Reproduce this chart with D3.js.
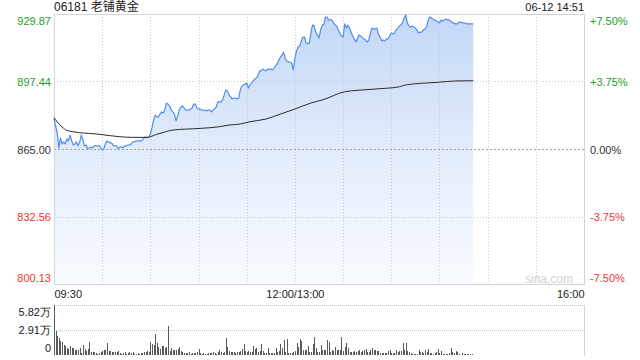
<!DOCTYPE html>
<html>
<head>
<meta charset="utf-8">
<script src="https://cdn.jsdelivr.net/npm/d3@7"></script>
<style>
  body { margin: 0; background: #fff; }
  svg { font-family: "Liberation Sans", Arial, "Noto Sans CJK SC", sans-serif; }
  .tick line { display: none; }
  .domain { display: none; }
</style>
</head>
<body>
<div id="svg-container"></div>
<script>
// Chart data
const stockTitle = "06181 老铺黄金";
const stamp = "06-12 14:51";
const prevClose = 865.0;
const timeTicks = [0, 150, 330];
const timeLabels = ["09:30", "12:00/13:00", "16:00"];
const gridMinutes = [30, 60, 90, 120, 150, 180, 210, 240, 270, 300];
const priceTicks = [929.87, 897.44, 865.0, 832.56, 800.13];
const pctLabels = ["+7.50%", "+3.75%", "0.00%", "-3.75%", "-7.50%"];
const volTicks = [5.82, 2.91, 0];
const volLabels = ["5.82万", "2.91万", "0"];

// one price per minute from 09:30
const prices = [
  879.7, 876.1, 872.7, 865.5, 870.3, 867.4, 868.4, 867.4, 869.8, 868.9,
  871.7, 868.9, 866.9, 867.4, 868.4, 866.5, 868.4, 871.7, 869.3, 866.5,
  866.9, 865.0, 865.5, 866.0, 865.5, 866.5, 866.5, 866.5, 866.5, 866.0,
  864.5, 865.0, 867.4, 868.9, 868.4, 867.9, 867.9, 866.5, 866.5, 866.5,
  865.0, 866.0, 866.0, 865.5, 866.5, 866.5, 866.9, 866.9, 867.4, 868.4,
  868.4, 868.9, 868.9, 868.9, 868.9, 869.3, 870.3, 870.8, 870.3, 870.8,
  872.2, 875.1, 878.9, 881.3, 880.4, 880.4, 881.8, 882.8, 882.3, 883.7,
  887.1, 886.6, 885.7, 883.7, 882.8, 881.8, 878.5, 880.9, 883.7, 885.2,
  885.7, 884.7, 883.7, 883.7, 883.7, 884.2, 884.7, 886.6, 886.6, 884.7,
  884.2, 884.2, 883.7, 883.7, 883.7, 883.3, 883.7, 883.7, 882.8, 883.7,
  884.2, 885.2, 887.6, 887.6, 887.6, 888.6, 891.0, 893.4, 892.9, 891.0,
  890.0, 889.0, 889.5, 889.5, 889.0, 889.5, 893.4, 895.3, 895.8, 896.2,
  896.7, 894.3, 895.8, 896.7, 897.7, 898.6, 899.1, 900.1, 902.5, 902.5,
  903.4, 903.0, 902.5, 903.4, 903.4, 903.4, 903.0, 903.9, 904.9, 905.9,
  907.8, 909.2, 910.2, 911.6, 908.3, 907.3, 906.8, 906.8, 906.3, 903.0,
  908.7, 912.1, 914.0, 914.5, 916.9, 918.8, 918.8, 915.9, 915.5, 915.9,
  921.2, 924.6, 924.1, 921.2, 919.8, 918.3, 922.2, 924.6, 924.6, 928.4,
  928.4, 927.0, 927.0, 927.0, 925.6, 924.6, 924.1, 922.2, 920.7, 919.3,
  918.8, 925.1, 923.1, 924.6, 923.1, 921.2, 919.3, 917.9, 916.4, 918.3,
  919.8, 919.3, 918.3, 917.9, 917.4, 916.4, 917.4, 920.7, 923.1, 922.7,
  922.7, 923.1, 920.3, 918.8, 916.9, 917.4, 916.9, 917.9, 917.9, 919.3,
  920.7, 920.3, 920.7, 922.2, 923.1, 924.1, 924.6, 925.6, 927.9, 929.4,
  925.6, 924.1, 923.6, 924.1, 923.6, 923.1, 922.2, 920.7, 921.2, 921.2,
  922.2, 922.7, 923.6, 927.0, 928.4, 928.0, 927.5, 927.0, 926.5, 926.0,
  925.6, 927.0, 926.5, 927.0, 927.5, 927.0, 927.0, 926.5, 925.6, 925.6,
  925.1, 925.1, 926.0, 926.0, 925.6, 925.6, 925.6, 925.1, 925.1, 925.1,
  925.1, 925.1
];

// average price line, sampled
const avgMinutes = [0, 2, 5, 8, 12, 16, 22, 28, 35, 41, 49, 58, 60, 64, 66, 74, 91, 103, 109, 116,
  122, 132, 141, 150, 160, 168, 181, 198, 215, 219, 240, 250, 261];
const avgPrices = [880.1, 878.0, 875.6, 873.9, 873.3, 872.8, 872.5, 872.1, 871.4, 870.9, 870.6, 870.6,
  870.9, 872.1, 872.5, 874.1, 874.9, 875.7, 876.5, 877.0, 878.1, 879.4, 881.8, 884.2, 887.1, 888.8,
  892.5, 893.7, 894.9, 895.8, 897.1, 897.7, 897.8];

// volume per minute, in 万
const volumes = [
  5.82, 2.83, 2.2, 1.94, 1.67, 1.47, 1.2, 1.05, 0.78, 0.7,
  1.0, 0.8, 0.78, 0.58, 0.55, 0.6, 0.78, 0.2, 1.16, 0.66,
  0.5, 0.66, 1.51, 0.39, 0.39, 0.3, 0.19, 0.12, 0.27, 0.31,
  0.47, 0.58, 0.6, 1.43, 0.5, 0.47, 0.4, 0.4, 0.3, 0.35,
  0.5, 0.2, 0.15, 0.2, 0.31, 0.15, 0.27, 0.35, 0.2, 0.31,
  0.12, 0.08, 0.19, 0.15, 0.27, 0.2, 0.31, 0.39, 0.47, 0.3,
  1.55, 1.24, 1.2, 2.44, 1.43, 0.97, 0.7, 1.05, 1.05, 0.78,
  0.9, 3.37, 0.5, 0.78, 0.58, 0.58, 0.62, 0.66, 0.89, 0.45,
  0.3, 0.2, 0.27, 0.19, 0.31, 0.15, 0.2, 0.27, 0.25, 0.3,
  0.66, 0.2, 0.15, 0.19, 0.12, 0.15, 0.2, 0.27, 0.19, 0.3,
  0.2, 0.12, 0.3, 0.6, 0.4, 0.27, 0.39, 1.94, 0.89, 0.5,
  0.39, 0.35, 0.39, 0.27, 0.35, 0.39, 0.5, 0.66, 1.28, 0.45,
  0.39, 0.5, 0.3, 0.39, 1.05, 0.7, 0.78, 0.39, 0.5, 1.28,
  0.5, 0.19, 0.27, 0.78, 0.27, 0.19, 0.2, 0.27, 0.78, 0.39,
  0.5, 1.28, 0.78, 1.74, 0.39, 1.86, 0.19, 0.27, 0.27, 0.35,
  0.5, 1.43, 0.97, 1.86, 1.67, 0.58, 0.58, 0.58, 1.05, 0.39,
  0.39, 1.28, 2.13, 0.78, 0.39, 0.39, 1.16, 0.58, 0.58, 0.6,
  1.74, 1.55, 0.39, 0.58, 0.5, 0.97, 0.58, 0.58, 0.58, 2.13,
  0.5, 0.89, 1.43, 0.78, 0.39, 0.39, 0.39, 0.45, 0.4, 0.5,
  0.58, 0.39, 0.45, 0.58, 0.66, 0.39, 0.39, 0.58, 0.78, 0.58,
  0.58, 0.5, 0.5, 0.27, 0.27, 0.27, 0.27, 0.27, 0.5, 0.58,
  0.19, 0.19, 0.19, 0.58, 0.39, 0.5, 0.5, 1.43, 0.58, 1.43,
  0.45, 0.39, 0.19, 0.12, 0.12, 0.12, 0.12, 0.62, 0.35, 0.3,
  0.19, 0.58, 0.39, 0.66, 0.27, 0.19, 0.12, 0.19, 0.3, 0.66,
  0.19, 0.5, 0.12, 0.08, 0.08, 0.15, 0.27, 0.78, 0.39, 0.19,
  0.47, 0.3, 0.12, 0.04, 0.19, 0.12, 0.08, 0.08, 0.08, 0.08,
  0.08, 0.04
];

const width = 640;
const height = 360;
const plot = { left: 54, right: 584, top: 14, bottom: 284 };
const volPanel = { top: 305, bottom: 355 };
const upColor = "#1e9e1e";
const downColor = "#f03434";
const flatColor = "#333";

const svg = d3.select("#svg-container").append("svg")
  .attr("width", width).attr("height", height);

// Scales
const xScale = d3.scaleLinear().domain([0, 330]).range([plot.left, plot.right]);
const yScale = d3.scaleLinear().domain([800.13, 929.87]).range([plot.bottom, plot.top]);
const volScale = d3.scaleLinear().domain([0, 5.82]).range([volPanel.bottom, volPanel.top]);

const tickColor = (v) => (v > prevClose + 0.01 ? upColor : v < prevClose - 0.01 ? downColor : flatColor);

// Gradient for the area
const grad = svg.append("defs").append("linearGradient")
  .attr("id", "fillGrad")
  .attr("gradientUnits", "userSpaceOnUse")
  .attr("x1", 0).attr("x2", 0)
  .attr("y1", plot.top).attr("y2", plot.bottom);
grad.append("stop").attr("offset", "0%").attr("stop-color", "#c2d7f7");
grad.append("stop").attr("offset", "50%").attr("stop-color", "#e2ecfb");
grad.append("stop").attr("offset", "100%").attr("stop-color", "#f8fbff");

// Price area + line
const area = d3.area()
  .x((d, i) => xScale(i))
  .y0(plot.bottom)
  .y1((d) => yScale(d));
svg.append("path").datum(prices)
  .attr("d", area)
  .attr("fill", "url(#fillGrad)");

// Grid lines
svg.append("g").selectAll("line")
  .data(gridMinutes).join("line")
  .attr("x1", (d) => Math.round(xScale(d)) + 0.5)
  .attr("x2", (d) => Math.round(xScale(d)) + 0.5)
  .attr("y1", plot.top).attr("y2", plot.bottom)
  .attr("stroke", "#c8c8c8").attr("stroke-dasharray", "1,2");

svg.append("g").selectAll("line")
  .data(priceTicks.slice(1, 4)).join("line")
  .attr("x1", plot.left).attr("x2", plot.right)
  .attr("y1", (d) => Math.round(yScale(d)) + 0.5)
  .attr("y2", (d) => Math.round(yScale(d)) + 0.5)
  .attr("stroke", (d) => (d === prevClose ? "#a0a0a0" : "#c8c8c8"))
  .attr("stroke-dasharray", (d) => (d === prevClose ? "2,2" : "1,2"));

// Plot frame
svg.append("rect")
  .attr("x", plot.left + 0.5).attr("y", plot.top + 0.5)
  .attr("width", plot.right - plot.left).attr("height", plot.bottom - plot.top)
  .attr("fill", "none").attr("stroke", "#d4d4d4");

const line = d3.line()
  .x((d, i) => xScale(i))
  .y((d) => yScale(d));
svg.append("path").datum(prices)
  .attr("d", line)
  .attr("fill", "none")
  .attr("stroke", "#4f8ef0")
  .attr("stroke-width", 1.2)
  .attr("stroke-linejoin", "round");

// Average line
const avgLine = d3.line()
  .x((d) => xScale(d[0]))
  .y((d) => yScale(d[1]))
  .curve(d3.curveMonotoneX);
svg.append("path").datum(avgMinutes.map((m, i) => [m, avgPrices[i]]))
  .attr("d", avgLine)
  .attr("fill", "none")
  .attr("stroke", "#2b2b2b")
  .attr("stroke-width", 1);

// Watermark
svg.append("text")
  .attr("x", 573).attr("y", 283)
  .attr("text-anchor", "end")
  .attr("font-size", 12)
  .attr("fill", "#cfcfcf")
  .text("sina.com");

// Label offsets: top label pushed down, bottom pushed up
const labelDy = (i, n) => (i === 0 ? "0.95em" : i === n - 1 ? "-0.2em" : "0.4em");

// Left price axis
const leftAxis = svg.append("g")
  .attr("transform", `translate(${plot.left},0)`)
  .call(d3.axisLeft(yScale).tickValues(priceTicks).tickSize(0).tickPadding(3)
    .tickFormat(d3.format(".2f")));
leftAxis.selectAll("text")
  .attr("font-size", 11)
  .attr("font-family", null)
  .attr("dy", (d, i) => labelDy(i, priceTicks.length))
  .attr("fill", (d) => tickColor(d));

// Right percent axis
const rightAxis = svg.append("g")
  .attr("transform", `translate(${plot.right},0)`)
  .call(d3.axisRight(yScale).tickValues(priceTicks).tickSize(0).tickPadding(6)
    .tickFormat((d, i) => pctLabels[i]));
rightAxis.selectAll("text")
  .attr("font-size", 11)
  .attr("font-family", null)
  .attr("dy", (d, i) => labelDy(i, priceTicks.length))
  .attr("fill", (d) => tickColor(d));

// Time axis
const xAxis = svg.append("g")
  .attr("transform", `translate(0,${plot.bottom})`)
  .call(d3.axisBottom(xScale).tickValues(timeTicks).tickSize(0).tickPadding(6)
    .tickFormat((d, i) => timeLabels[i]));
xAxis.selectAll("text")
  .attr("font-size", 11)
  .attr("font-family", null)
  .attr("fill", "#222")
  .attr("text-anchor", (d, i) => (i === 0 ? "start" : i === timeTicks.length - 1 ? "end" : "middle"));

// Header
svg.append("text")
  .attr("x", plot.left).attr("y", 11)
  .attr("font-size", 12).attr("fill", "#222")
  .text(stockTitle);
svg.append("text")
  .attr("x", plot.right).attr("y", 11)
  .attr("text-anchor", "end")
  .attr("font-size", 11).attr("fill", "#222")
  .text(stamp);

// Volume panel
svg.append("g").selectAll("line")
  .data(volTicks.slice(0, 2)).join("line")
  .attr("x1", plot.left).attr("x2", plot.right)
  .attr("y1", (d) => Math.round(volScale(d)) + 0.5)
  .attr("y2", (d) => Math.round(volScale(d)) + 0.5)
  .attr("stroke", "#c4c4c4").attr("stroke-dasharray", "1,1");

[plot.left, plot.right].forEach((x) => {
  svg.append("line")
    .attr("x1", x + 0.5).attr("x2", x + 0.5)
    .attr("y1", volPanel.top).attr("y2", volPanel.bottom + 1)
    .attr("stroke", "#d4d4d4");
});

svg.append("g").selectAll("rect")
  .data(volumes).join("rect")
  .attr("x", (d, i) => Math.round(xScale(i)))
  .attr("y", (d) => volScale(d))
  .attr("width", 1)
  .attr("height", (d) => volPanel.bottom - volScale(d))
  .attr("fill", "#5a5a5a")
  .attr("shape-rendering", "crispEdges");

const volAxis = svg.append("g")
  .attr("transform", `translate(${plot.left},0)`)
  .call(d3.axisLeft(volScale).tickValues(volTicks).tickSize(0).tickPadding(3)
    .tickFormat((d, i) => volLabels[i]));
volAxis.selectAll("text")
  .attr("font-size", 11)
  .attr("font-family", null)
  .attr("fill", "#222")
  .attr("dy", (d, i) => (i === 0 ? "0.95em" : i === volTicks.length - 1 ? "-0.3em" : "0.35em"));
</script>
</body>
</html>
